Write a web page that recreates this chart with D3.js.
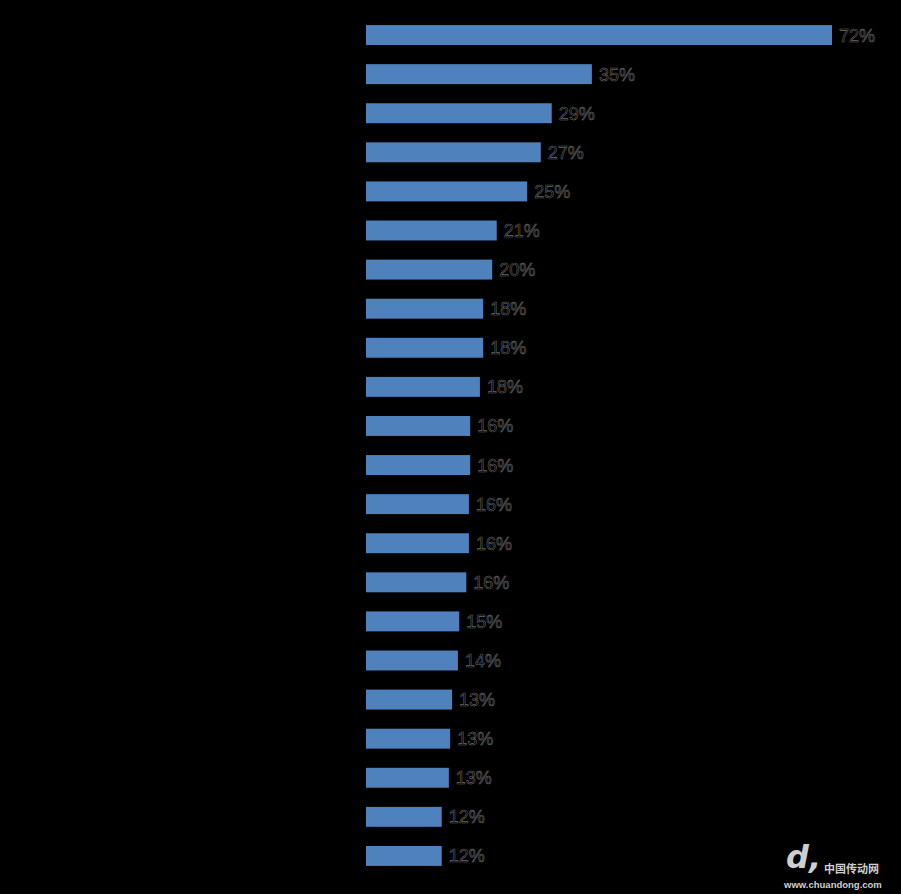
<!DOCTYPE html>
<html><head><meta charset="utf-8">
<script src="https://cdn.jsdelivr.net/npm/d3@7/dist/d3.min.js"></script>
<style>html,body{margin:0;padding:0;background:#000;}svg{display:block;}</style>
</head><body>
<svg id="c" width="901" height="894"></svg>
<script>
const values = [72.0, 34.9, 28.7, 27.0, 24.9, 20.2, 19.5, 18.1, 18.1, 17.6, 16.1, 16.1, 15.9, 15.9, 15.5, 14.4, 14.2, 13.3, 13.0, 12.8, 11.7, 11.7];
const labels = ["72%","35%","29%","27%","25%","21%","20%","18%","18%","18%","16%","16%","16%","16%","16%","15%","14%","13%","13%","13%","12%","12%"];
const ids = values.map((d,i)=>i);

const svg = d3.select("#c");
svg.append("rect").attr("width",901).attr("height",894).attr("fill","#000");

const x = d3.scaleLinear().domain([0,72]).range([366,832]);
const y = d3.scaleBand().domain(ids).range([15.5,875.5]).paddingInner(0.49).paddingOuter(0.245);

svg.selectAll("rect.bar").data(ids).enter().append("rect")
  .attr("class","bar")
  .attr("x", x(0))
  .attr("y", i=>y(i))
  .attr("width", i=>x(values[i])-x(0))
  .attr("height", y.bandwidth())
  .attr("fill","#4f81bd");

svg.selectAll("text.val").data(ids).enter().append("text")
  .attr("class","val")
  .attr("x", i=>x(values[i])+7)
  .attr("y", i=>y(i)+y.bandwidth()/2)
  .attr("dy","0.36em")
  .attr("font-family","Liberation Sans, Arial, sans-serif")
  .attr("font-size",18)
  .attr("fill","#000")
  .attr("stroke","#6a6a6a")
  .attr("stroke-width",0.55)
  .text(i=>labels[i]);

// watermark
const wm = svg.append("g").attr("fill","#cfcfcf");
wm.append("text").attr("x",786).attr("y",868).attr("font-family","DejaVu Sans, sans-serif")
  .attr("font-size",32).attr("font-weight","bold").attr("font-style","italic").text("d,");
wm.append("text").attr("x",824).attr("y",873).attr("font-family","Noto Sans CJK SC, sans-serif")
  .attr("font-size",11).attr("font-weight","bold").text("中国传动网");
wm.append("text").attr("x",784).attr("y",888).attr("font-family","Liberation Sans, Arial, sans-serif")
  .attr("font-size",9.5).attr("font-weight","bold").text("www.chuandong.com");
</script>
</body></html>
